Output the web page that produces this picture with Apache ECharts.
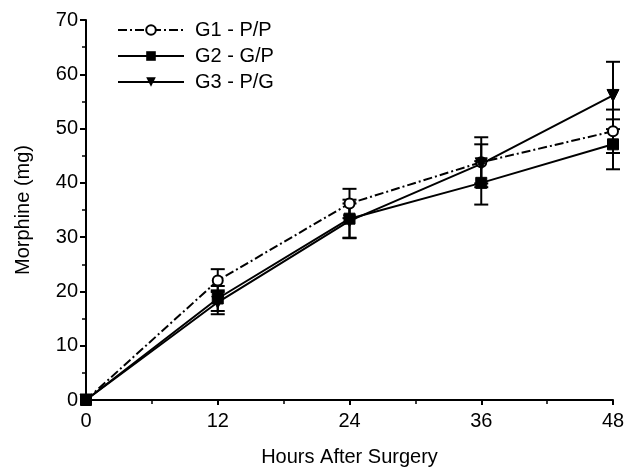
<!DOCTYPE html>
<html>
<head>
<meta charset="utf-8">
<script src="https://cdn.jsdelivr.net/npm/echarts@6/dist/echarts.min.js"></script>
<style>
html,body{margin:0;padding:0;background:#fff}
#main{width:626px;height:468px}
</style>
</head>
<body>
<div id="main"></div>
<script>
// hours after surgery
var hours = [0, 12, 24, 36, 48];
var yTicks = [0, 10, 20, 30, 40, 50, 60, 70];

// mean morphine (mg)
var g1 = [0, 22.0, 36.2, 43.8, 49.5];
var g2 = [0, 18.7, 33.4, 40.0, 47.1];
var g3 = [0, 18.0, 33.0, 43.5, 56.1];

// error bar half-widths
var g1Err = [0, 2.1, 2.7, 4.6, 4.0];
var g2Err = [0, 2.3, 3.5, 4.0, 4.6];
var g3Err = [0, 2.2, 3.2, 3.6, 6.2];

var names = ['G1 - P/P', 'G2 - G/P', 'G3 - P/G'];

var chart = echarts.init(document.getElementById('main'));

function pairs(vals){
  var out = [];
  for (var i = 0; i < hours.length; i++) out.push([hours[i], vals[i]]);
  return out;
}
function errData(vals, err){
  var out = [];
  for (var i = 1; i < hours.length; i++) out.push([hours[i], vals[i] - err[i], vals[i] + err[i]]);
  return out;
}
function renderErr(params, api){
  var x = api.value(0);
  var lo = api.coord([x, api.value(1)]);
  var hi = api.coord([x, api.value(2)]);
  var w = 7;
  var st = {stroke: '#000', lineWidth: 2};
  return {
    type: 'group',
    children: [
      {type: 'line', shape: {x1: lo[0], y1: lo[1], x2: hi[0], y2: hi[1]}, style: st},
      {type: 'line', shape: {x1: lo[0] - w, y1: lo[1], x2: lo[0] + w, y2: lo[1]}, style: st},
      {type: 'line', shape: {x1: hi[0] - w, y1: hi[1], x2: hi[0] + w, y2: hi[1]}, style: st}
    ]
  };
}

var font = 'Liberation Sans, Arial, sans-serif';

var option = {
  backgroundColor: '#fff',
  animation: false,
  textStyle: {fontFamily: font, color: '#000'},
  grid: {left: 86, right: 13, top: 20, bottom: 68, outerBoundsMode: 'none'},
  legend: {
    left: 112, top: 14, orient: 'vertical', itemGap: 4,
    itemWidth: 66, itemHeight: 12,
    textStyle: {fontSize: 20, lineHeight: 22, color: '#000', fontFamily: font, padding: [0, 0, 0, 6]},
    data: names
  },
  xAxis: {
    type: 'value', min: 0, max: 48, interval: 12,
    name: 'Hours After Surgery', nameLocation: 'middle', nameGap: 47,
    nameTextStyle: {fontSize: 20, color: '#000'},
    axisLine: {lineStyle: {color: '#000', width: 2}},
    axisTick: {length: 5, lineStyle: {color: '#000', width: 2}},
    minorTick: {show: true, splitNumber: 2, length: 4, lineStyle: {color: '#000', width: 1.5}},
    axisLabel: {fontSize: 20, color: '#000', margin: 11},
    splitLine: {show: false}
  },
  yAxis: {
    type: 'value', min: 0, max: 70, interval: 10,
    name: 'Morphine (mg)', nameLocation: 'middle', nameGap: 53,
    nameTextStyle: {fontSize: 20, color: '#000'},
    axisLine: {show: true, lineStyle: {color: '#000', width: 2}},
    axisTick: {show: true, length: 6, lineStyle: {color: '#000', width: 2}},
    minorTick: {show: true, splitNumber: 2, length: 4, lineStyle: {color: '#000', width: 1.5}},
    axisLabel: {fontSize: 20, color: '#000', margin: 8,
      formatter: function(v){ return yTicks.indexOf(v) >= 0 ? String(v) : ''; }},
    splitLine: {show: false}
  },
  series: [
    {type: 'custom', renderItem: renderErr, data: errData(g1, g1Err), z: 1, silent: true},
    {type: 'custom', renderItem: renderErr, data: errData(g2, g2Err), z: 1, silent: true},
    {type: 'custom', renderItem: renderErr, data: errData(g3, g3Err), z: 1, silent: true},
    {
      name: names[0], type: 'line', data: pairs(g1), z: 3,
      symbol: 'circle', symbolSize: 10,
      itemStyle: {color: '#fff', borderColor: '#000', borderWidth: 2},
      lineStyle: {color: '#000', width: 2, type: [9, 3, 2, 3]}
    },
    {
      name: names[1], type: 'line', data: pairs(g2), z: 3,
      symbol: 'rect', symbolSize: 11,
      itemStyle: {color: '#000', borderColor: '#000'},
      lineStyle: {color: '#000', width: 2}
    },
    {
      name: names[2], type: 'line', data: pairs(g3), z: 3,
      symbol: 'triangle', symbolRotate: 180, symbolSize: 12,
      itemStyle: {color: '#000', borderColor: '#000'},
      lineStyle: {color: '#000', width: 2}
    }
  ]
};
chart.setOption(option);
</script>
</body>
</html>
